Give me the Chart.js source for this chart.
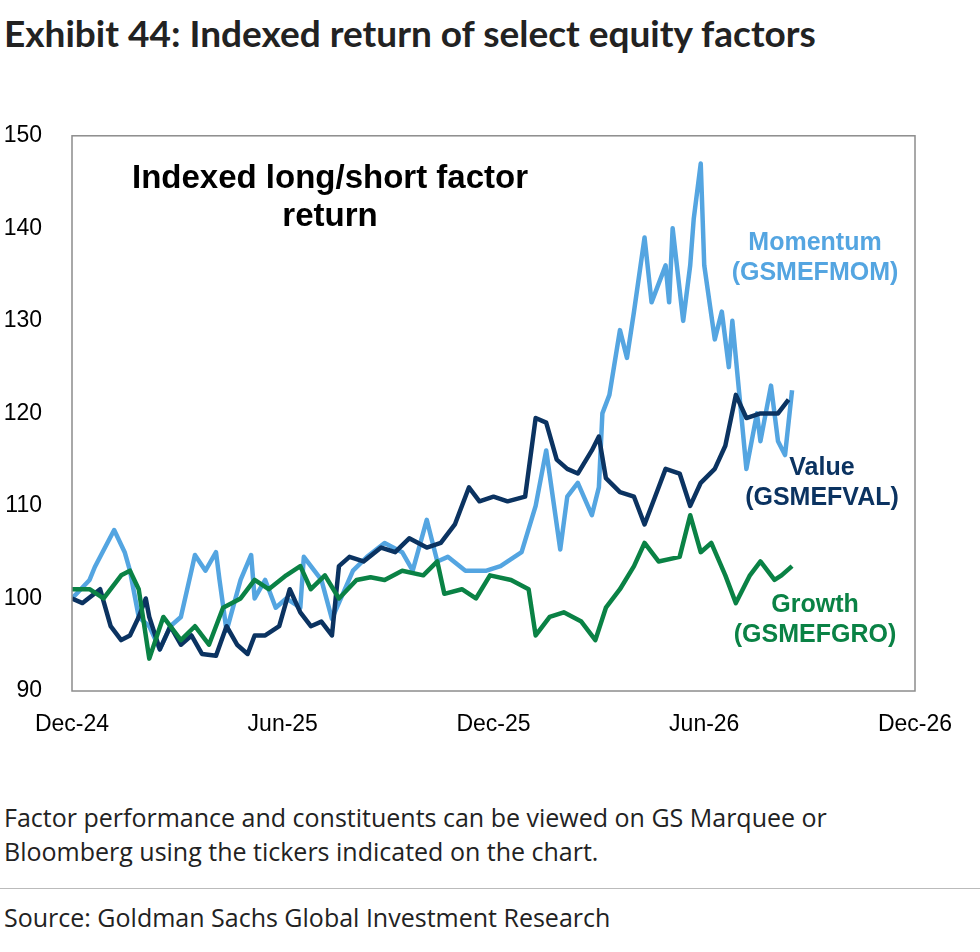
<!DOCTYPE html>
<html><head><meta charset="utf-8">
<script src="https://cdn.jsdelivr.net/npm/chart.js@4"></script>
<style>
body{margin:0;width:980px;height:952px;background:#fff;font-family:"Liberation Sans",Arial,sans-serif;position:relative;overflow:hidden}
#title{position:absolute;left:4px;top:10px;font-family:Lato,"Open Sans",sans-serif;font-weight:700;font-size:37px;color:#222}
#wrap{position:absolute;left:0;top:100px;width:980px;height:660px}
.ann{position:absolute;font-weight:700;text-align:center;line-height:30px}
.foot{position:absolute;left:4px;font-family:"Open Sans",sans-serif;font-size:25px;color:#222}
#rule{position:absolute;left:0;top:888px;width:980px;height:1px;background:#bbb}
</style></head><body>
<div id="title">Exhibit 44: Indexed return of select equity factors</div>
<div id="wrap"><canvas id="c"></canvas></div>
<div class="ann" style="left:100px;top:158px;width:460px;font-size:33px;line-height:38px;color:#000">Indexed long/short factor<br>return</div>
<div class="ann" style="left:715px;top:226px;width:200px;font-size:25px;color:#54A5E1">Momentum<br>(GSMEFMOM)</div>
<div class="ann" style="left:722px;top:451px;width:200px;font-size:25px;color:#0B3361">Value<br>(GSMEFVAL)</div>
<div class="ann" style="left:715px;top:588px;width:200px;font-size:25px;color:#0A8245">Growth<br>(GSMEFGRO)</div>
<div class="foot" style="top:800px;line-height:34px">Factor performance and constituents can be viewed on GS Marquee or<br>Bloomberg using the tickers indicated on the chart.</div>
<div id="rule"></div>
<div class="foot" style="top:900px">Source: Goldman Sachs Global Investment Research</div>
<script>
const tickLabels = {0:"Dec-24",6:"Jun-25",12:"Dec-25",18:"Jun-26",24:"Dec-26"};
const momX = [0,0.5,0.65,1.2,1.5,1.65,1.9,2.2,2.5,2.8,3.1,3.4,3.5,3.8,4.1,4.2,4.4,4.8,5.1,5.2,5.5,5.8,6.1,6.5,6.6,7.1,7.4,8.0,8.4,8.9,9.4,9.7,10.1,10.4,10.7,11.2,11.8,12.2,12.8,13.2,13.5,13.9,14.1,14.4,14.8,15.0,15.1,15.3,15.6,15.8,16.0,16.3,16.5,16.9,17.0,17.1,17.4,17.6,17.7,17.9,18.0,18.3,18.5,18.7,18.8,19.0,19.2,19.5,19.6,19.9,20.1,20.3,20.5];
const momVals = [100,102,103.4,107.4,105,103,98,97,94.5,97,98,103,104.7,103,105,102,96.5,102,104.7,100,102,99,100,99,104.5,102,97.8,103,104.5,106,105,103,108.5,104,104.5,103,103,103.5,105,110,116,105.3,111,112.5,109,112,120,122,129,126,131,139,132,136,132,140,130,136,141,147,136,128,131,125,130,122,114,120,117,123,117,115.5,122.5];
const valX = [0,0.3,0.8,1.1,1.4,1.65,1.9,2.1,2.2,2.5,2.8,3.1,3.4,3.7,4.1,4.4,4.7,5.0,5.2,5.5,5.9,6.2,6.5,6.8,7.1,7.4,7.6,7.9,8.3,8.8,9.2,9.6,10.1,10.5,10.9,11.3,11.6,12.0,12.4,12.9,13.2,13.5,13.8,14.1,14.4,14.8,15.0,15.2,15.6,16.0,16.3,16.6,16.9,17.3,17.6,17.9,18.3,18.6,18.9,19.2,19.6,20.1,20.4];
const valVals = [100,99.5,101,97,95.5,96,98,100,98,94.5,97,95,96,94,93.8,97,95,94,96,96,97,101,98.5,97,97.5,96,103.5,104.5,104,105.5,105,106.5,105.5,106,108,112,110.5,111,110.5,111,119.5,119,115,114,113.5,116,117.5,113,111.5,111,108,111,114,113.5,110,112.5,114,116.5,122,119.5,120,120,121.5];
const groX = [0,0.5,0.9,1.4,1.65,1.9,2.2,2.6,3.1,3.5,3.9,4.3,4.8,5.2,5.6,6.1,6.5,6.8,7.2,7.6,8.1,8.5,8.9,9.4,10.0,10.4,10.6,11.1,11.5,11.9,12.5,13.0,13.2,13.6,14.0,14.5,14.9,15.2,15.6,16.0,16.3,16.7,17.3,17.6,17.9,18.2,18.6,18.9,19.3,19.6,20.0,20.2,20.5];
const groVals = [101,101,100,102.5,103,101,93.5,98,95.5,97,95,99,100,102,101,102.5,103.5,101,102.5,100,102,102.3,102,103,102.5,104,100.5,101,100,102.5,102,101,96,98,98.5,97.5,95.5,99,101,103.5,106,104,104.5,109,105,106,102.5,99.5,102.5,104,102,102.5,103.5];

function pts(xs, ys){ return xs.map((x,i)=>({x:x,y:ys[i]})); }
const frame = {id:'frame', afterDraw(c){const a=c.chartArea,ctx=c.ctx;ctx.save();ctx.strokeStyle='#8c8c8c';ctx.lineWidth=1.5;ctx.strokeRect(a.left,a.top,a.right-a.left,a.bottom-a.top);ctx.restore();}};
new Chart(document.getElementById('c'),{
  type:'line',
  data:{datasets:[
    {label:'Growth',data:pts(groX,groVals),borderColor:'#0A8245'},
    {label:'Value',data:pts(valX,valVals),borderColor:'#0B3361'},
    {label:'Momentum',data:pts(momX,momVals),borderColor:'#54A5E1'}
  ]},
  options:{
    responsive:true,maintainAspectRatio:false,animation:false,
    datasets:{line:{borderWidth:4.5,pointRadius:0,tension:0,borderJoinStyle:'round'}},
    layout:{padding:{top:26,right:65,left:0,bottom:0}},
    plugins:{legend:{display:false},tooltip:{enabled:false}},
    scales:{
      x:{type:'linear',min:0,max:24,grid:{display:false},border:{display:false},
        afterFit(s){s.height=69;},
        ticks:{stepSize:6,autoSkip:false,maxRotation:0,color:'#000',font:{size:23,family:'"Liberation Sans",Arial'},padding:12,callback:v=>tickLabels[v]??''}},
      y:{min:90,max:150,grid:{display:false},border:{display:false},
        afterFit(s){s.width=72;},
        ticks:{stepSize:10,color:'#000',font:{size:23,family:'"Liberation Sans",Arial'},padding:22}}
    }
  },
  plugins:[frame]
});
</script></body></html>
